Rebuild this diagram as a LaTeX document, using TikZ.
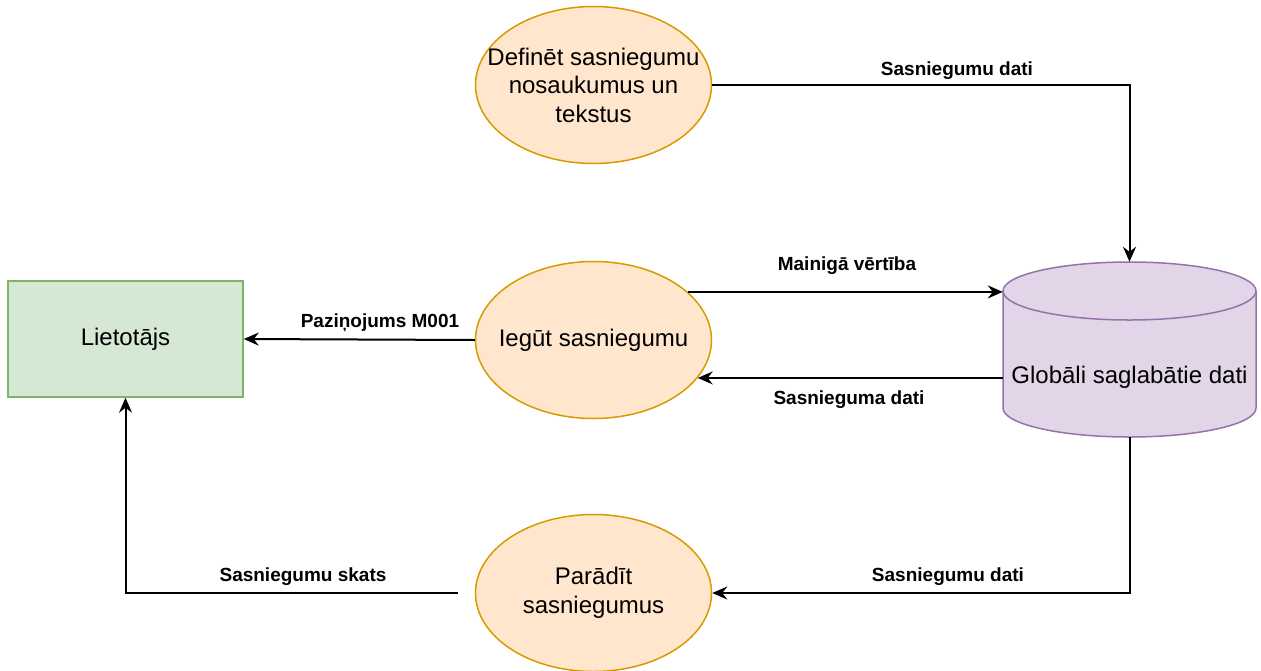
\documentclass[tikz,border=0pt]{standalone}
\usepackage{fontspec}
\setmainfont{Liberation Sans}
\usetikzlibrary{shapes.geometric,arrows.meta}
\definecolor{procfill}{HTML}{FFE6CC}
\definecolor{procdraw}{HTML}{D79B00}
\definecolor{userfill}{HTML}{D5E8D4}
\definecolor{userdraw}{HTML}{82B366}
\definecolor{dbfill}{HTML}{E1D5E7}
\definecolor{dbdraw}{HTML}{9673A6}
\tikzset{
  proc/.style={ellipse, draw=procdraw, fill=procfill, line width=1.5pt,
    minimum width=236pt, minimum height=157pt, inner sep=0pt},
  ptext/.style={align=center, font=\fontsize{24}{28.5}\selectfont},
  entity/.style={rectangle, draw=userdraw, fill=userfill, line width=1.5pt,
    minimum width=235pt, minimum height=116pt, inner sep=0pt,
    font=\fontsize{24}{28.5}\selectfont},
  flow/.style={draw=black, line width=2pt,
    -{Stealth[length=15pt, width=13pt, inset=5pt]}},
  flowlabel/.style={font=\bfseries\fontsize{19}{22}\selectfont, inner sep=1pt}
}
\begin{document}
\begin{tikzpicture}[x=1pt,y=1pt]
  \useasboundingbox (0,0) rectangle (1261,-670);

  % processes
  \node[proc] (define) at (593.5,-85) {};
  \node[ptext] (defineText) at (593.5,-85) {Definēt sasniegumu\\nosaukumus un\\tekstus};
  \node[proc] (obtain) at (593.5,-340) {};
  \node[ptext] (obtainText) at (593.5,-340) {Iegūt sasniegumu};
  \node[proc] (show) at (593.5,-593) {};
  \node[ptext] (showText) at (593.5,-593) {Parādīt\\sasniegumus};

  % external entity
  \node[entity] (user) at (125.5,-339) {Lietotājs};

  % data store (cylinder)
  \node[minimum width=253pt, minimum height=175pt, inner sep=0pt] (db) at (1129.5,-349.5) {};
  \path[draw=dbdraw, fill=dbfill, line width=1.5pt]
    (1003,-291) -- (1003,-408) arc (180:360:126.5pt and 29pt)
    -- (1256,-291) arc (0:180:126.5pt and 29pt) -- cycle;
  \draw[dbdraw, line width=1.5pt] (1003,-291) arc (180:360:126.5pt and 29pt);
  \node[font=\fontsize{24}{28.5}\selectfont] (dbText) at (1129.5,-377) {Globāli saglabātie dati};

  % flows
  \draw[flow] (define.east) -| (db.north);
  \node[flowlabel] (l1) at (957,-71) {Sasniegumu dati};

  \draw[flow] (obtain.27.9) -- (obtain.27.9 -| db.west);
  \node[flowlabel] (l2) at (847,-266) {Mainigā vērtība};

  \draw[flow] (obtain.-20.8 -| db.west) -- (obtain.-20.8);
  \node[flowlabel] (l3) at (849,-400) {Sasnieguma dati};

  \draw[flow] (obtain.west) -- (user.east);
  \node[flowlabel] (l4) at (380,-323) {Paziņojums M001};

  \draw[flow] (db.south) |- (show.east);
  \node[flowlabel] (l5) at (948,-577) {Sasniegumu dati};

  \coordinate (viewStart) at (458,-593);
  \draw[flow] (viewStart) -| (user.south);
  \node[flowlabel] (l6) at (303,-577) {Sasniegumu skats};
\end{tikzpicture}
\end{document}
